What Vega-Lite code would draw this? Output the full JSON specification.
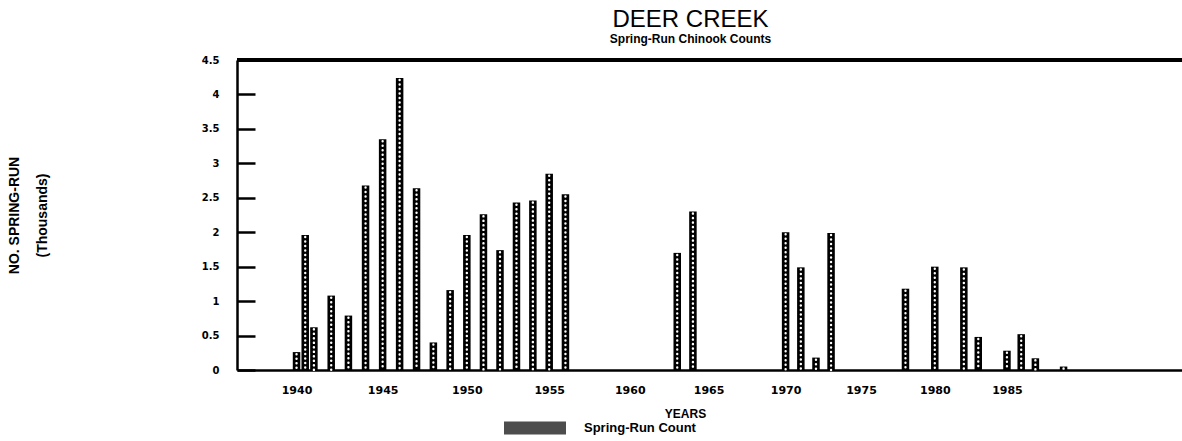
{
  "$schema": "https://vega.github.io/schema/vega-lite/v6.json",
  "autosize": "none",
  "width": 945,
  "height": 310,
  "padding": {"left": 237, "top": 60, "right": 0, "bottom": 71},
  "background": "white",
  "title": {
    "text": "DEER CREEK",
    "subtitle": "Spring-Run Chinook Counts",
    "font": "Liberation Sans",
    "fontSize": 24,
    "fontWeight": "normal",
    "color": "black",
    "subtitleFont": "Liberation Sans",
    "subtitleFontSize": 12,
    "subtitleFontWeight": "bold",
    "subtitleColor": "black",
    "subtitlePadding": 2,
    "anchor": "middle",
    "dx": -19,
    "offset": 10
  },
  "data": {
    "values": [
      {"year": 1940, "count": 0.26},
      {"year": 1940.5, "count": 1.96},
      {"year": 1941, "count": 0.62},
      {"year": 1942, "count": 1.08},
      {"year": 1943, "count": 0.79},
      {"year": 1944, "count": 2.68},
      {"year": 1945, "count": 3.35},
      {"year": 1946, "count": 4.24},
      {"year": 1947, "count": 2.64},
      {"year": 1948, "count": 0.40},
      {"year": 1949, "count": 1.16},
      {"year": 1950, "count": 1.96},
      {"year": 1951, "count": 2.26},
      {"year": 1952, "count": 1.74},
      {"year": 1953, "count": 2.43},
      {"year": 1954, "count": 2.46},
      {"year": 1955, "count": 2.85},
      {"year": 1956, "count": 2.55},
      {"year": 1963, "count": 1.70},
      {"year": 1964, "count": 2.30},
      {"year": 1970, "count": 2.00},
      {"year": 1971, "count": 1.49},
      {"year": 1972, "count": 0.18},
      {"year": 1973, "count": 1.99},
      {"year": 1978, "count": 1.18},
      {"year": 1980, "count": 1.50},
      {"year": 1982, "count": 1.49},
      {"year": 1983, "count": 0.48},
      {"year": 1985, "count": 0.28},
      {"year": 1986, "count": 0.52},
      {"year": 1987, "count": 0.17},
      {"year": 1989, "count": 0.05}
    ]
  },
  "encoding": {
    "x": {
      "field": "year",
      "type": "quantitative",
      "scale": {"type": "pow", "exponent": -7.66, "domain": [1936.89, 1997.23], "nice": false, "zero": false},
      "axis": {
        "values": [1940, 1945, 1950, 1955, 1960, 1965, 1970, 1975, 1980, 1985],
        "format": "d",
        "grid": false,
        "ticks": false,
        "domainColor": "black",
        "domainWidth": 2.5,
        "labelFont": "DejaVu Sans",
        "labelFontSize": 11,
        "labelFontWeight": "bold",
        "labelColor": "black",
        "labelPadding": 14,
        "title": "YEARS",
        "titleFont": "Liberation Sans",
        "titleFontSize": 12,
        "titleFontWeight": "bold",
        "titleColor": "black",
        "titleX": 448,
        "titleY": 43,
        "titleAlign": "center",
        "titleBaseline": "middle"
      }
    },
    "y": {
      "field": "count",
      "type": "quantitative",
      "scale": {"domain": [0, 4.5], "nice": false},
      "axis": {
        "values": [0, 0.5, 1, 1.5, 2, 2.5, 3, 3.5, 4, 4.5],
        "format": "~g",
        "grid": false,
        "domainColor": "black",
        "domainWidth": 2.5,
        "tickColor": "black",
        "tickWidth": 2.5,
        "tickSize": -18,
        "labelPadding": 36,
        "labelFont": "DejaVu Sans",
        "labelFontSize": 10,
        "labelFontWeight": "bold",
        "labelColor": "black",
        "title": ["NO. SPRING-RUN", "(Thousands)"],
        "titleFont": "Liberation Sans",
        "titleFontSize": 14,
        "titleFontWeight": "bold",
        "titleColor": "black",
        "titleAngle": -90,
        "titleX": -223,
        "titleY": 155,
        "titleAlign": "center",
        "titleBaseline": "middle",
        "titleLineHeight": 28
      }
    }
  },
  "layer": [
    {
      "mark": {"type": "bar", "size": 7.5, "color": "black"}
    },
    {
      "mark": {"type": "rule", "color": "white", "strokeWidth": 2.4, "strokeDash": [0.1, 4.4], "strokeCap": "round", "strokeDashOffset": 2.5},
      "encoding": {
        "y2": {"datum": 0}
      }
    },
    {
      "mark": {"type": "rule", "color": "black", "strokeWidth": 2.5},
      "encoding": {
        "x": null,
        "y": {"datum": 4.5}
      }
    },
    {
      "data": {"values": []},
      "mark": {"type": "point", "filled": true, "fill": "#4d4d4d", "stroke": "black", "strokeWidth": 2, "opacity": 1},
      "encoding": {
        "shape": {
          "datum": "Spring-Run Count",
          "type": "nominal",
          "scale": {"range": ["M-1,-0.21L1,-0.21L1,0.21L-1,0.21Z"]},
          "legend": {
            "title": null,
            "orient": "none",
            "legendX": 266,
            "legendY": 336,
            "padding": 0,
            "symbolSize": 3844,
            "symbolFillColor": "#4d4d4d",
            "symbolStrokeColor": "black",
            "symbolStrokeWidth": 2,
            "labelOffset": 17,
            "labelFont": "Liberation Sans",
            "labelFontSize": 13,
            "labelFontWeight": "bold",
            "labelColor": "black"
          }
        }
      }
    }
  ],
  "config": {
    "view": {"stroke": null},
    "font": "Liberation Sans"
  }
}
